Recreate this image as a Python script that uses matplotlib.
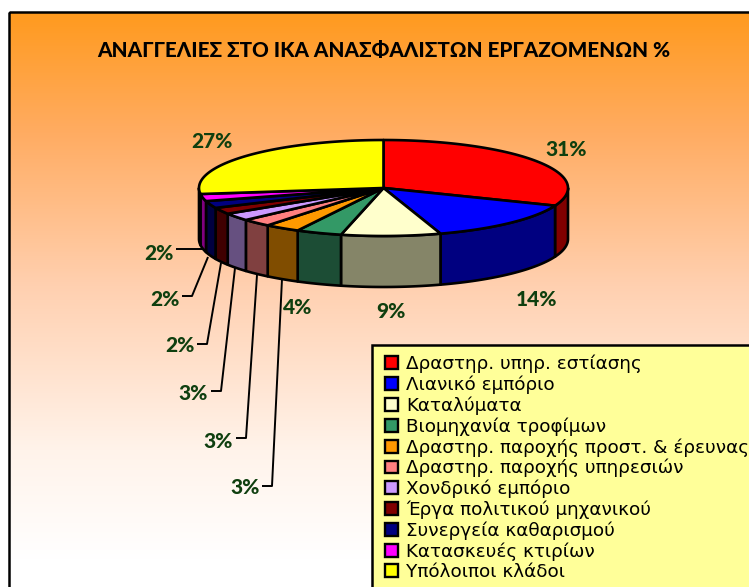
import numpy as np
import matplotlib
matplotlib.use("Agg")
import matplotlib.pyplot as plt
from matplotlib.patches import Polygon, Patch, Rectangle
from matplotlib.colors import LinearSegmentedColormap

title = "ΑΝΑΓΓΕΛΙΕΣ ΣΤΟ ΙΚΑ ΑΝΑΣΦΑΛΙΣΤΩΝ ΕΡΓΑΖΟΜΕΝΩΝ %"
categories = ["Δραστηρ. υπηρ. εστίασης", "Λιανικό εμπόριο", "Καταλύματα",
              "Βιομηχανία τροφίμων", "Δραστηρ. παροχής προστ. & έρευνας",
              "Δραστηρ. παροχής υπηρεσιών", "Χονδρικό εμπόριο",
              "Έργα πολιτικού μηχανικού", "Συνεργεία καθαρισμού",
              "Κατασκευές κτιρίων", "Υπόλοιποι κλάδοι"]
values = [31, 14, 8.7, 4.0, 3.1, 2.6, 2.6, 2.2, 2.4, 2.4, 27]
top_colors = ["#FF0000", "#0000FF", "#FFFFCC", "#339966", "#FF9900", "#FF8080",
              "#CC99FF", "#800000", "#000080", "#FF00FF", "#FFFF00"]
side_colors = ["#800000", "#000080", "#858568", "#1C4D35", "#804D00", "#804040",
               "#665080", "#400000", "#000040", "#800080", "#808000"]
label_pos = [(566, 149), (537, 300), (391, 311), (298, 308), (245, 488), (218, 441),
             (193, 393), (180, 346), (165, 299), (159, 253), (212, 141)]
leaders = {4: [(262, 486), (272, 486), (282, 279)],
           5: [(236, 438), (246, 438), (257, 275)],
           6: [(211, 391), (221, 391), (235, 268)],
           7: [(197, 344), (207, 344), (221, 263)],
           8: [(182, 296), (192, 296), (208, 257)],
           9: [(176, 249), (203, 249)]}

cx, cy, rx, ry, depth = 383.5, 188, 184.5, 48, 51
W, H = 749, 587

fig = plt.figure(figsize=(W / 100, H / 100), dpi=100, facecolor="white")
ax = fig.add_axes([0, 0, 1, 1])

cmap = LinearSegmentedColormap.from_list("bg", [(0, "#FF9A1E"), (0.22, "#FFAC62"),
                                                (0.5, "#FFD0B0"), (0.8, "#FFF3EA"),
                                                (1, "#FFFFFF")])
ax.imshow(np.linspace(0, 1, 256)[:, None], cmap=cmap, aspect="auto",
          extent=(9, W + 5, 560, 12), zorder=0)
ax.set_xlim(0, W)
ax.set_ylim(H, 0)
ax.axis("off")
ax.add_patch(Rectangle((9, 12), W, H, fc="none", ec="black", lw=1.8, zorder=1))


def arc(a0, a1, dy=0.0):
    t = np.linspace(a0, a1, max(int(abs(a1 - a0)) + 2, 3))
    r = np.radians(t)
    return np.column_stack([cx + rx * np.sin(r), cy - ry * np.cos(r) + dy])


edges = np.concatenate([[0], np.cumsum(values)]) * 360 / sum(values)

for i, v in enumerate(values):
    a0, a1 = max(edges[i], 90), min(edges[i + 1], 270)
    if a1 <= a0:
        continue
    pts = np.vstack([arc(a0, a1), arc(a0, a1, depth)[::-1]])
    ax.add_patch(Polygon(pts, closed=True, fc=side_colors[i], ec="black", lw=1.9,
                         joinstyle="round", zorder=3))

for i, v in enumerate(values):
    pts = np.vstack([[cx, cy], arc(edges[i], edges[i + 1])])
    ax.add_patch(Polygon(pts, closed=True, fc=top_colors[i], ec="black", lw=1.9,
                         joinstyle="round", zorder=4))

for i, seg in leaders.items():
    xs, ys = zip(*seg)
    ax.plot(xs, ys, color="black", lw=1.4, zorder=2, solid_capstyle="butt")

for v, (x, y) in zip(values, label_pos):
    ax.text(x, y, f"{round(v)}%", ha="center", va="center", fontsize=15, fontweight="black",
            family="Lato", color="#0F3F0F", zorder=5)

ax.text(384, 51, title, ha="center", va="center", fontsize=14.9, fontweight="black",
        family="Lato", color="black", zorder=5)

ax.add_patch(Rectangle((372, 345), W, H, fc="#FFFF99", ec="black", lw=1.8, zorder=6))
handles = [Patch(fc=c, ec="black", lw=1.7) for c in top_colors]
leg = ax.legend(handles, categories, loc="upper left",
                bbox_to_anchor=(385, 354.5), bbox_transform=ax.transData,
                prop={"family": "DejaVu Sans", "size": 13.2},
                frameon=False, handlelength=0.7, handleheight=0.7, handletextpad=0.45,
                labelspacing=0.13, borderpad=0, borderaxespad=0)
leg.set_zorder(7)

fig.savefig("out.png", dpi=100)
